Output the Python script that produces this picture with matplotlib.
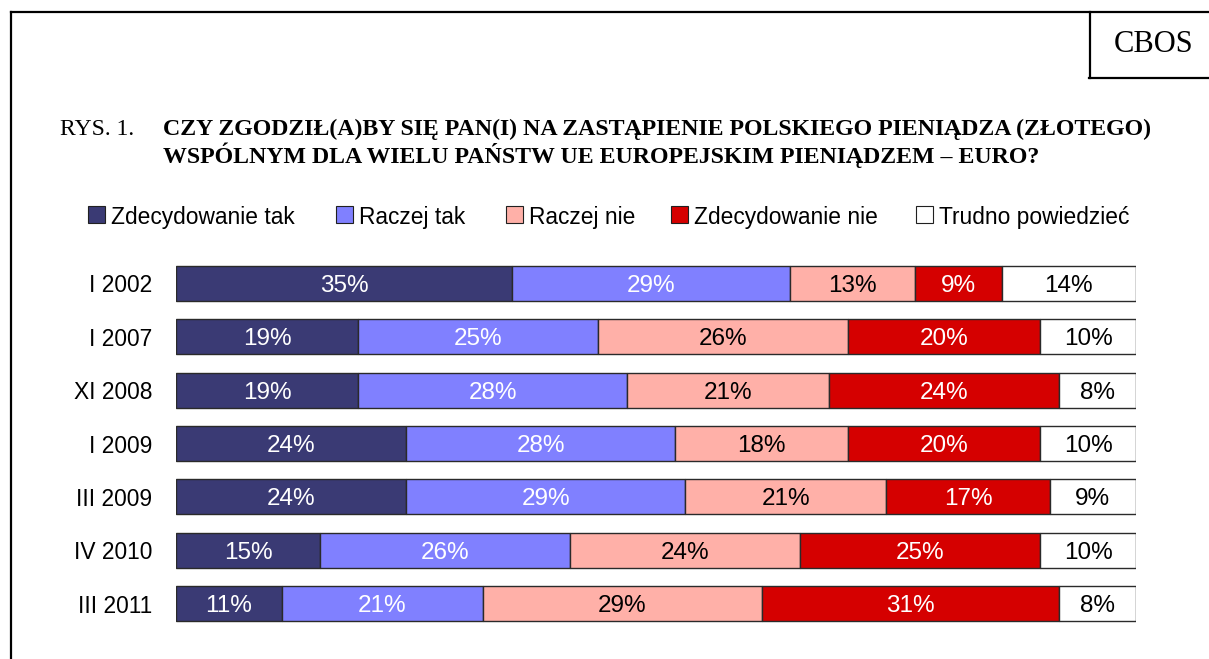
import matplotlib
matplotlib.use("Agg")
import matplotlib.pyplot as plt
from matplotlib.patches import Rectangle
from matplotlib.lines import Line2D

# ---- data ----
categories = ["I 2002", "I 2007", "XI 2008", "I 2009", "III 2009", "IV 2010", "III 2011"]
series_names = ["Zdecydowanie tak", "Raczej tak", "Raczej nie", "Zdecydowanie nie", "Trudno powiedzieć"]
zdecydowanie_tak = [35, 19, 19, 24, 24, 15, 11]
raczej_tak = [29, 25, 28, 28, 29, 26, 21]
raczej_nie = [13, 26, 21, 18, 21, 24, 29]
zdecydowanie_nie = [9, 20, 24, 20, 17, 25, 31]
trudno = [14, 10, 8, 10, 9, 10, 8]
series_values = [zdecydowanie_tak, raczej_tak, raczej_nie, zdecydowanie_nie, trudno]

colors = ["#3A3A74", "#8080FF", "#FFB0A8", "#D50000", "#FFFFFF"]
text_colors = ["white", "white", "black", "white", "black"]

W, H = 1209, 659
fig = plt.figure(figsize=(W / 100, H / 100), dpi=100)

def fx(px):
    return px / W

def fy(py):
    return 1 - py / H

sans = ["Liberation Sans", "Arial", "DejaVu Sans"]
serif = ["Liberation Serif", "Times New Roman", "DejaVu Serif"]

# frame
fig.add_artist(Line2D([fx(11), fx(11)], [fy(12), 0], transform=fig.transFigure, color="black", lw=1.6))
fig.add_artist(Line2D([fx(11), 1], [fy(12), fy(12)], transform=fig.transFigure, color="black", lw=1.6))
# CBOS box
fig.add_artist(Line2D([fx(1090), fx(1090)], [fy(12), fy(78)], transform=fig.transFigure, color="black", lw=1.6))
fig.add_artist(Line2D([fx(1089), 1], [fy(78), fy(78)], transform=fig.transFigure, color="black", lw=1.6))
fig.text(fx(1154), fy(45), "CBOS", family=serif, fontsize=22, ha="center", va="center")

# title
fig.text(fx(60), fy(135), "RYS. 1.", family=serif, fontsize=17, ha="left", va="baseline")
fig.text(fx(163), fy(135), "CZY ZGODZIŁ(A)BY SIĘ PAN(I) NA ZASTĄPIENIE POLSKIEGO PIENIĄDZA (ZŁOTEGO)",
         family=serif, fontsize=17.2, fontweight="bold", ha="left", va="baseline")
fig.text(fx(163), fy(163), "WSPÓLNYM DLA WIELU PAŃSTW UE EUROPEJSKIM PIENIĄDZEM – EURO?",
         family=serif, fontsize=17.2, fontweight="bold", ha="left", va="baseline")

# legend (manual)
leg_square_x = [88, 336, 506, 671, 916]
leg_y = 215
sq = 17
for name, c, x0 in zip(series_names, colors, leg_square_x):
    fig.add_artist(Rectangle((fx(x0), fy(leg_y + sq / 2)), sq / W, sq / H, transform=fig.transFigure,
                             facecolor=c, edgecolor="#202020", lw=0.8))
    fig.text(fx(x0 + sq + 6), fy(leg_y), name, family=sans, fontsize=16.4, ha="left", va="center_baseline")

# bars
ax = fig.add_axes([fx(176), fy(630.2), 960 / W, (630.2 - 256.8) / H])
y = list(range(len(categories)))
left = [0] * len(categories)
for vals, c, tc in zip(series_values, colors, text_colors):
    ax.barh(y, vals, left=left, height=0.655, color=c, edgecolor="#2a2a2a", linewidth=1.0)
    for yi, (l, v) in enumerate(zip(left, vals)):
        ax.text(l + v / 2, yi, f"{v}%", ha="center", va="center_baseline", color=tc,
                family=sans, fontsize=17.5)
    left = [l + v for l, v in zip(left, vals)]

ax.set_xlim(0, 100)
ax.set_ylim(len(categories) - 0.5, -0.5)
ax.set_yticks(y)
ax.set_yticklabels(categories, family=sans, fontsize=16.4)
ax.tick_params(axis="y", length=0, pad=17)
ax.set_xticks([])
for s in ax.spines.values():
    s.set_visible(False)

fig.savefig("out.png", dpi=100)
